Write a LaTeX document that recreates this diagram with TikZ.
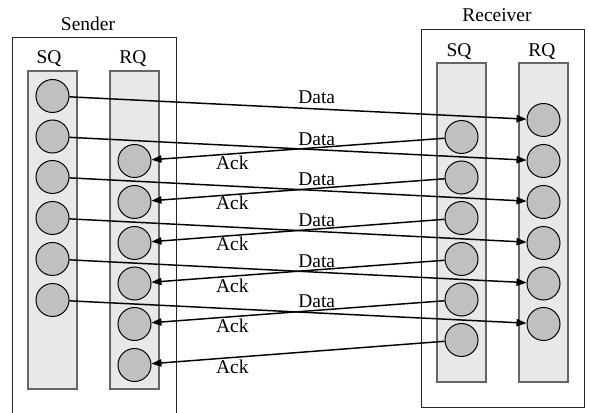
\documentclass[tikz,border=0pt]{standalone}
\usepackage{fontspec}
\setmainfont{Liberation Serif}
\usetikzlibrary{arrows.meta}
\definecolor{colfill}{HTML}{E8E8E8}
\definecolor{colline}{HTML}{666666}
\definecolor{slotfill}{HTML}{C0C0C0}
\tikzset{
  box/.style={draw=black!85, line width=0.75pt},
  queue/.style={draw=colline, fill=colfill, line width=0.9pt},
  slot/.style={circle, draw=black, fill=slotfill, line width=0.75pt, minimum size=24.75pt, inner sep=0pt},
  msg/.style={line width=1.1pt, -{Triangle[length=7.5pt, width=5.5pt]}},
  lbl/.style={anchor=base, inner sep=0pt, font=\fontsize{14.6}{17}\selectfont},
}
\begin{document}
\begin{tikzpicture}[x=0.75pt, y=-0.75pt]
\useasboundingbox (0,0) rectangle (589,413);

% Sender side
\draw[box] (12,413) -- (12,38) -- (176,38) -- (176,413);
\node[lbl] (sendlbl) at (88,30.7) {Sender};
\draw[queue] (28,71) rectangle (77,389);
\draw[queue] (110,71) rectangle (159,389);
\node[lbl] (ssqlbl) at (49,64) {SQ};
\node[lbl] (srqlbl) at (133,64) {RQ};

% Receiver side
\draw[box] (421,30) rectangle (584,407);
\node[lbl] (recvlbl) at (497,21.7) {Receiver};
\draw[queue] (437,63) rectangle (486,382);
\draw[queue] (519,63) rectangle (568,382);
\node[lbl] (rsqlbl) at (459,56.7) {SQ};
\node[lbl] (rrqlbl) at (542,56.7) {RQ};

% Queue slots
\foreach \i/\y in {1/96,2/136.5,3/177,4/218,5/259,6/300}
  \node[slot] (ssq\i) at (52.5,\y) {};
\foreach \i/\y in {1/161,2/202,3/243,4/283.5,5/324,6/365}
  \node[slot] (srq\i) at (134.5,\y) {};
\foreach \i/\y in {1/137,2/177.5,3/218,4/259,5/299.5,6/340}
  \node[slot] (rsq\i) at (461.5,\y) {};
\foreach \i/\y in {1/120,2/161,3/202,4/243,5/283.5,6/324}
  \node[slot] (rrq\i) at (543.5,\y) {};

% Data and acknowledgement messages
\foreach \i in {1,...,6} {
  \draw[msg] (ssq\i) -- (rrq\i);
  \draw[msg] (rsq\i) -- (srq\i);
}

% Message labels
\foreach \i/\y in {1/104,2/145.7,3/186,4/226.3,5/267.3,6/307.3}
  \node[lbl] (dlbl\i) at (316.7,\y) {Data};
\foreach \i/\y in {1/169.3,2/210,3/250.7,4/292.3,5/332.7,6/373.3}
  \node[lbl] (albl\i) at (232.3,\y) {Ack};
\end{tikzpicture}
\end{document}
